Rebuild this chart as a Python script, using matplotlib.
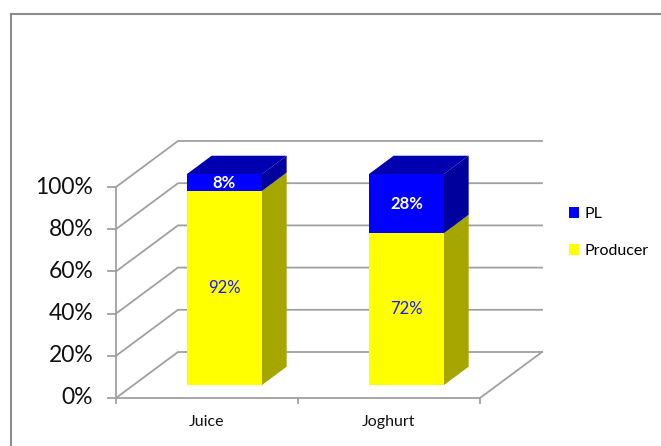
import matplotlib
matplotlib.use('Agg')
import matplotlib.pyplot as plt
from matplotlib.patches import Polygon, Patch
from matplotlib.lines import Line2D

categories = ['Juice', 'Joghurt']
producer = [92, 72]
pl = [8, 28]
ticks = [0, 20, 40, 60, 80, 100]

plt.rcParams['font.family'] = ['Lato', 'DejaVu Sans']

fig = plt.figure(figsize=(6.61, 4.46), dpi=100)
ax = fig.add_axes([0, 0, 1, 1])
# scale: 182 px per category, 2.11 px per percent
ax.set_xlim((0 - 207) / 182, (661 - 207) / 182)
ax.set_ylim(-(446 - 398) / 2.11, 398 / 2.11)
ax.axis('off')

DX, DY = 62 / 182, 46 / 2.11      # depth of the chart box
grid = '#a0a0a0'
lw = 1.3
x0, x1 = -0.5, len(categories) - 0.5

# walls and floor
for v in ticks:
    ax.plot([x0, x0 + DX, x1 + DX], [v, v + DY, v + DY], color=grid, lw=lw, zorder=1)
    ax.plot([x0 - 0.045, x0], [v, v], color=grid, lw=lw, zorder=1)
    ax.text(x0 - 0.125, v, f'{v}%', ha='right', va='center', fontsize=16.5, color='#111111')
ax.plot([x0, x0], [0, 100], color=grid, lw=lw, zorder=1)
ax.plot([x0, x1, x1 + DX], [0, 0, DY], color=grid, lw=lw, zorder=1)
for i in range(len(categories) + 1):
    ax.plot([x0 + i, x0 + i], [0, -2.4], color=grid, lw=lw, zorder=1)
for i, c in enumerate(categories):
    ax.text(i, -11.5, c, ha='center', va='center', fontsize=11.5, color='#111111')

# bars
w = 75 / 182
off, dep = 0.28, 0.40


def box(xc, y0, y1, front, side, top=None):
    xa = xc - w / 2 + off * DX
    xb = xc + w / 2 + off * DX
    ya, yb = y0 + off * DY, y1 + off * DY
    ddx, ddy = dep * DX, dep * DY
    ax.add_patch(Polygon([(xb, ya), (xb + ddx, ya + ddy), (xb + ddx, yb + ddy), (xb, yb)],
                         closed=True, fc=side, ec='none', zorder=3))
    if top:
        ax.add_patch(Polygon([(xa, yb), (xa + ddx, yb + ddy), (xb + ddx, yb + ddy), (xb, yb)],
                             closed=True, fc=top, ec='none', zorder=3))
    ax.add_patch(Polygon([(xa, ya), (xb, ya), (xb, yb), (xa, yb)],
                         closed=True, fc=front, ec='none', zorder=4))
    return (xa + xb) / 2, (ya + yb) / 2


for i in range(len(categories)):
    cx, cy = box(i, 0, producer[i], '#ffff00', '#a6a600')
    ax.text(cx, cy, f'{producer[i]}%', ha='center', va='center', fontsize=12,
            color='#1a1aff', zorder=5)
    cx, cy = box(i, producer[i], producer[i] + pl[i], '#0000ff', '#00009c', '#0000b0')
    ax.text(cx, cy, f'{pl[i]}%', ha='center', va='center', fontsize=12,
            color='white', fontweight='bold', zorder=5)

handles = [Patch(fc='#0000ff', label='PL'), Patch(fc='#ffff00', label='Producer')]
ax.legend(handles=handles, loc='center left', bbox_to_anchor=(0.848, 0.478),
          frameon=False, fontsize=11.5, handlelength=0.65, handleheight=0.65,
          handletextpad=0.35, labelspacing=1.45, borderpad=0)

# outer chart border
fig.add_artist(Line2D([10.5 / 661, 10.5 / 661], [0, 1 - 13.5 / 446], color='#8c8c8c', lw=1.5))
fig.add_artist(Line2D([10.5 / 661, 1], [1 - 13.5 / 446, 1 - 13.5 / 446], color='#8c8c8c', lw=1.5))

fig.savefig('out.png', dpi=100)
